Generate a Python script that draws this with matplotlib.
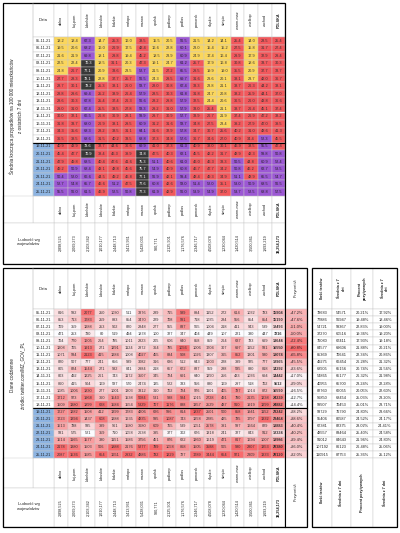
import matplotlib.pyplot as plt
import matplotlib.colors as mcolors
from matplotlib.patches import Rectangle
import numpy as np

plt.rcParams['font.family'] = ['Liberation Sans', 'DejaVu Sans']

# ====================
# dane
# ====================
regions = ["dolno", "kuj-pom", "lubelskie", "lubuskie", "łódzkie", "małopo", "mazow",
           "opolsk", "podkarp", "podlas", "pomorsk", "śląskie", "święto", "warm-maz",
           "wielkop", "zachod", "POLSKA"]
dates = ["05-11-21", "06-11-21", "07-11-21", "08-11-21", "09-11-21", "10-11-21", "11-11-21",
         "12-11-21", "13-11-21", "14-11-21", "15-11-21", "16-11-21", "17-11-21", "18-11-21",
         "19-11-21", "20-11-21", "21-11-21", "22-11-21", "23-11-21", "24-11-21", "25-11-21"]
population = ["2,898,525", "2,069,273", "2,103,342", "1,010,177", "2,448,713", "3,413,931",
              "5,428,031", "980,771", "2,125,901", "1,176,576", "2,346,717", "4,508,078",
              "1,230,044", "1,420,514", "3,500,361", "1,693,219", "38,254,173"]

# średnia 7-dniowa na 100 tys.
avg7 = [
    [18.2, 18.4, 67.3, 14.7, 25.3, 16.0, 38.5, 15.5, 20.5, 56.5, 21.5, 14.2, 14.1, 25.4, 14.0, 28.5, 25.4],
    [19.5, 20.6, 68.2, 16.0, 26.9, 17.5, 42.4, 16.6, 22.8, 60.1, 23.0, 15.4, 15.2, 27.5, 15.8, 31.7, 27.4],
    [21.6, 21.9, 69.8, 18.1, 29.8, 19.4, 45.2, 18.5, 23.9, 60.9, 24.9, 17.4, 16.4, 29.9, 17.9, 32.9, 29.4],
    [22.5, 22.4, 70.3, 18.5, 31.1, 20.3, 47.3, 19.1, 24.7, 61.2, 25.7, 17.9, 16.8, 30.8, 18.6, 33.7, 30.3],
    [24.8, 26.7, 77.1, 20.9, 33.6, 23.5, 52.7, 21.5, 27.2, 65.5, 29.5, 19.9, 19.0, 35.5, 20.9, 37.7, 33.7],
    [27.7, 28.3, 78.1, 22.8, 37.7, 25.7, 56.5, 24.3, 29.5, 69.7, 31.6, 23.6, 20.1, 38.1, 23.7, 42.0, 36.7],
    [28.7, 30.1, 78.2, 25.3, 38.1, 26.0, 58.7, 28.0, 30.8, 67.4, 33.3, 23.8, 21.1, 38.7, 26.3, 44.2, 38.1],
    [28.8, 29.6, 69.4, 25.2, 38.9, 26.4, 57.9, 28.5, 30.3, 61.8, 31.8, 24.7, 20.8, 38.2, 25.9, 44.1, 37.0],
    [28.6, 30.3, 67.8, 25.4, 37.4, 26.3, 56.6, 28.2, 29.8, 57.9, 32.5, 24.4, 20.6, 36.5, 26.0, 43.8, 36.6],
    [29.0, 31.0, 67.4, 25.5, 38.5, 27.8, 58.3, 29.2, 31.0, 57.9, 33.0, 25.4, 21.1, 38.7, 26.4, 45.1, 37.4],
    [30.0, 32.1, 66.5, 26.8, 36.9, 28.1, 59.9, 29.7, 30.9, 57.7, 33.9, 26.7, 21.9, 37.4, 26.9, 47.2, 38.2],
    [31.8, 33.7, 68.0, 26.9, 38.1, 29.5, 60.9, 31.2, 31.6, 58.7, 34.8, 27.5, 23.4, 39.2, 27.9, 47.0, 39.5],
    [34.3, 35.6, 68.3, 28.2, 38.5, 31.1, 64.1, 31.6, 32.9, 57.8, 34.7, 30.7, 25.6, 40.2, 31.0, 48.6, 41.3],
    [36.5, 38.5, 68.6, 31.5, 40.2, 33.5, 68.8, 37.3, 34.8, 57.6, 36.7, 34.6, 27.0, 40.9, 34.4, 52.3, 45.5],
    [40.9, 43.9, 73.6, 32.7, 44.6, 36.6, 69.9, 41.0, 37.3, 61.3, 40.9, 38.0, 30.1, 46.9, 38.5, 55.5, 47.4],
    [45.4, 47.7, 70.9, 38.4, 46.3, 39.9, 74.8, 47.5, 40.3, 62.1, 45.5, 42.2, 31.7, 48.9, 42.3, 59.8, 50.8],
    [47.9, 49.8, 68.5, 40.4, 47.6, 41.6, 75.3, 51.1, 40.6, 61.0, 46.0, 46.3, 33.3, 50.5, 44.8, 60.9, 52.4],
    [49.2, 50.9, 68.4, 43.1, 48.8, 45.6, 75.7, 54.9, 40.9, 60.8, 46.7, 47.7, 34.2, 50.8, 46.2, 62.7, 53.5],
    [50.4, 52.0, 66.6, 44.5, 49.2, 46.8, 77.1, 56.9, 42.1, 59.4, 48.4, 49.3, 34.9, 51.1, 48.9, 65.5, 54.7],
    [52.7, 54.8, 65.7, 46.6, 51.2, 47.5, 77.6, 60.8, 42.6, 58.0, 51.4, 52.0, 35.1, 53.0, 50.9, 68.5, 56.5],
    [55.5, 56.0, 61.5, 46.9, 52.5, 50.8, 77.3, 61.9, 42.9, 56.0, 53.9, 54.9, 37.0, 53.7, 52.5, 68.8, 57.5],
]

# dane codzienne
daily = [
    [816, 592, 2077, 250, 1030, 511, 3376, 289, 715, 989, 894, 1152, 272, 614, 1032, 783, 15904],
    [853, 713, 1783, 259, 893, 854, 3470, 229, 708, 991, 718, 1035, 284, 556, 854, 854, 15190],
    [709, 359, 1288, 253, 902, 820, 2848, 277, 555, 837, 565, 1004, 218, 411, 943, 539, 12493],
    [471, 253, 730, 80, 519, 494, 1878, 100, 327, 347, 404, 449, 107, 221, 380, 447, 7216],
    [704, 770, 1605, 264, 795, 1011, 2823, 205, 606, 640, 858, 859, 264, 637, 783, 699, 13644],
    [1208, 705, 1913, 271, 1291, 1124, 2872, 364, 795, 1056, 1006, 1704, 307, 697, 1152, 931, 16550],
    [1071, 934, 2123, 415, 1284, 1008, 4027, 455, 884, 908, 1026, 1307, 365, 852, 1301, 980, 19074],
    [820, 507, 777, 241, 656, 989, 3082, 316, 636, 512, 643, 1603, 228, 399, 925, 777, 12965],
    [805, 824, 1544, 271, 982, 841, 2984, 218, 657, 672, 837, 959, 288, 585, 880, 818, 14292],
    [803, 492, 1225, 261, 743, 1172, 3507, 345, 724, 691, 640, 1290, 256, 433, 1036, 694, 14442],
    [860, 415, 904, 169, 587, 570, 2474, 135, 522, 333, 556, 880, 169, 297, 518, 702, 9512],
    [1085, 1006, 1830, 277, 1001, 1303, 3312, 310, 702, 724, 976, 1101, 405, 787, 1014, 872, 16590],
    [1712, 973, 1968, 360, 1543, 1538, 5084, 531, 988, 984, 1015, 2728, 491, 790, 2135, 1238, 24239],
    [1509, 1380, 1899, 628, 1584, 1554, 5329, 707, 1176, 888, 1357, 2529, 487, 910, 1919, 1299, 24882],
    [1727, 1282, 1508, 412, 1399, 1783, 4206, 626, 996, 814, 1837, 2501, 500, 858, 1941, 1152, 23242],
    [1723, 1394, 1437, 608, 1288, 1635, 4835, 595, 1087, 743, 1258, 2285, 425, 785, 1797, 1332, 23464],
    [1513, 788, 935, 399, 961, 1580, 3680, 609, 765, 539, 1051, 2578, 391, 597, 1664, 829, 18883],
    [931, 575, 521, 359, 710, 1058, 2638, 395, 377, 302, 676, 1318, 241, 327, 843, 912, 12334],
    [1514, 1165, 1577, 380, 1151, 1586, 3756, 451, 876, 622, 1260, 1619, 471, 817, 1694, 1007, 19986],
    [2178, 1380, 1503, 506, 1888, 2176, 5277, 799, 1058, 868, 1505, 3588, 505, 980, 2807, 1353, 28380],
    [2087, 1536, 1585, 654, 1651, 2932, 4886, 782, 1229, 727, 1789, 3444, 654, 971, 2309, 1333, 28120],
]
growth = [47.2, 47.6, 51.0, 50.0, 72.4, 80.8, 65.8, 45.5, 33.6, 17.0, 29.0, 16.5, 12.7, 14.4,
          28.2, 38.6, 40.4, 40.2, 39.4, 36.0, 32.0]

# testy
tests = [78683, 77886, 54721, 37270, 76080, 84577, 85369, 49275, 68905, 54865, 40955, 82760,
         96850, 99507, 93729, 95406, 67381, 48557, 91012, 107192, 110915]
tests_avg7 = [54571, 56947, 59367, 60516, 67411, 69606, 70641, 66454, 65156, 65177, 65700, 66055,
              68454, 70453, 76790, 80587, 82375, 83464, 84643, 86123, 87753]
pos_pct = [20.21, 19.48, 22.83, 19.36, 17.93, 21.88, 22.34, 26.28, 20.74, 26.32, 23.24, 20.05,
           25.03, 25.01, 24.80, 24.52, 28.02, 25.40, 21.96, 26.48, 25.36]
pos_avg7 = [17.92, 18.46, 19.00, 19.20, 19.18, 20.21, 20.86, 21.32, 21.56, 21.98, 22.28, 22.60,
            23.20, 23.71, 23.66, 24.17, 24.41, 24.58, 24.80, 25.06, 25.12]
test_headers = ["Ilość testów", "Średnia z 7\ndni", "Procent\npozytywnych", "Średnia z 7\ndni"]
test_headers_bottom = ["Ilość testów", "Średnia z 7 dni", "Procent pozytywnych", "Średnia z 7 dni"]

# ====================
# układ
# ====================
YELLOW, RED, PURPLE, DARK = '#fbd65c', '#f2585c', '#9c58d4', '#383838'
BLUE = '#8db4e2'
GRID = '#c8c8c8'
heat = mcolors.LinearSegmentedColormap.from_list('xl', ['#fcfcff', '#f8696b'])

X0, XD, XC0, CW = 3, 33, 54, 13.6
ncol = len(regions)
XEND = XC0 + ncol * CW

fig = plt.figure(figsize=(4, 5.33), dpi=100)
ax = fig.add_axes([0, 0, 1, 1])
ax.set_xlim(0, 400)
ax.set_ylim(533, 0)
ax.axis('off')


def cell(x, y, w, h, fc='white', ec=GRID, lw=0.3):
    ax.add_patch(Rectangle((x, y), w, h, facecolor=fc, edgecolor=ec, linewidth=lw))


def txt(x, y, s, size=3.0, rot=0, **kw):
    ax.text(x, y, s, fontsize=size, rotation=rot, ha='center', va='center',
            color=kw.pop('color', '#222222'), **kw)


def level_color(v):
    if v < 25:
        return YELLOW, '#333333'
    if v < 50:
        return RED, '#333333'
    if v < 70:
        return PURPLE, '#222222'
    return DARK, 'white'


def draw_table(top, header_h, row_h, label_h, pop_h, values, fmt, colors, extra=None):
    right = XEND + (22 if extra else 0)
    y_rows = top + header_h
    y_lab = y_rows + row_h * len(dates)
    y_pop = y_lab + label_h
    bottom = y_pop + pop_h
    # nagłówek
    cell(XD, top, XC0 - XD, header_h)
    txt((XD + XC0) / 2, top + header_h / 2, "Data", 3.0)
    for j, name in enumerate(regions):
        x = XC0 + j * CW
        cell(x, top, CW, header_h)
        txt(x + CW / 2, top + header_h / 2, name, 2.7, 90,
            fontweight='bold' if name == "POLSKA" else 'normal')
        cell(x, y_lab, CW, label_h)
        txt(x + CW / 2, y_lab + label_h / 2, name, 2.7, 90,
            fontweight='bold' if name == "POLSKA" else 'normal')
        cell(x, y_pop, CW, pop_h)
        txt(x + CW / 2, y_pop + pop_h / 2, population[j], 2.7, 90,
            fontweight='bold' if name == "POLSKA" else 'normal')
    cell(XD, y_lab, XC0 - XD, label_h)
    cell(X0, y_lab, XD - X0, label_h)
    cell(X0, y_pop, XC0 - X0, pop_h)
    txt((X0 + XC0) / 2, y_pop + pop_h / 2 - 1, "Ludność wg\nwojewództw", 3.0, linespacing=1.3)
    # wiersze
    for i, d in enumerate(dates):
        y = y_rows + i * row_h
        cell(XD, y, XC0 - XD, row_h, BLUE if i >= 14 else 'white')
        txt((XD + XC0) / 2, y + row_h / 2, d, 2.8)
        for j in range(ncol):
            fc, tc = colors(i, j)
            cell(XC0 + j * CW, y, CW, row_h, fc)
            txt(XC0 + j * CW + CW / 2, y + row_h / 2, fmt(values[i][j]), 2.8, color=tc,
                fontweight='bold' if (extra and j == ncol - 1) else 'normal')
    if extra:
        vals, lbl = extra
        norm = mcolors.Normalize(min(vals), max(vals))
        cell(XEND, top, right - XEND, header_h)
        txt((XEND + right) / 2, top + header_h / 2, lbl, 2.7, 90)
        for i, v in enumerate(vals):
            y = y_rows + i * row_h
            cell(XEND, y, right - XEND, row_h, heat(norm(v)))
            txt((XEND + right) / 2, y + row_h / 2, f"+{v:.1f}%", 2.8)
        cell(XEND, y_lab, right - XEND, bottom - y_lab)
        txt((XEND + right) / 2, (y_lab + bottom) / 2, lbl, 2.7, 90)
        ax.plot([XEND, XEND], [top, bottom], color='black', lw=0.8)
    # grube linie
    ysplit = y_rows + 14 * row_h
    ax.plot([XD, right], [ysplit, ysplit], color='black', lw=0.8)
    ax.add_patch(Rectangle((X0, top), right - X0, bottom - top, fill=False,
                           edgecolor='black', linewidth=0.9))
    return y_rows, y_lab, bottom


# ====================
# 1. średnia krocząca na 100 tys.
# ====================
t1 = draw_table(3, 34, 7.55, 27, 41, avg7, lambda v: f"{v:.1f}",
                lambda i, j: level_color(avg7[i][j]))
ax.plot([XD, XD], [3, t1[1]], color=GRID, lw=0.3)
txt(12, (t1[0] + t1[1]) / 2, "Średnia krocząca przypadków na 100 000 mieszkańców", 3.3, 90)
txt(21, (t1[0] + t1[1]) / 2, "z ostatnich 7 dni", 3.3, 90)

# ====================
# 2. dane codzienne
# ====================
arr = np.array(daily, dtype=float)
col_norms = [mcolors.Normalize(arr[:, j].min(), arr[:, j].max()) for j in range(ncol)]
t2 = draw_table(268, 41, 7.1, 30, 39, daily, lambda v: f"{v}",
                lambda i, j: (heat(col_norms[j](daily[i][j])), '#333333'),
                extra=(growth, "Przyrost t/t"))
ax.plot([XD, XD], [268, t2[1]], color=GRID, lw=0.3)
txt(13, 375, "Dane codzienne", 3.3, 90)
txt(23, 375, "źródło: twitter.com/MZ_GOV_PL", 3.3, 90)

# ====================
# 3. testy
# ====================
SX = [312, 332, 351, 373, 397]
top, y_rows, y_lab, bottom = 268, t2[0], t2[1], 527
cols = [[f"{v}" for v in tests], [f"{v}" for v in tests_avg7],
        [f"{v:.2f}%" for v in pos_pct], [f"{v:.2f}%" for v in pos_avg7]]
for k in range(4):
    x, w = SX[k], SX[k + 1] - SX[k]
    cell(x, top, w, y_rows - top)
    txt(x + w / 2, (top + y_rows) / 2, test_headers[k], 2.7, 90, fontweight='bold',
        linespacing=1.2)
    for i, s in enumerate(cols[k]):
        cell(x, y_rows + i * 7.1, w, 7.1)
        txt(x + w / 2, y_rows + i * 7.1 + 3.55, s, 2.8)
    cell(x, y_lab, w, bottom - y_lab)
    txt(x + w / 2, (y_lab + bottom) / 2, test_headers_bottom[k], 2.7, 90, fontweight='bold')
ax.add_patch(Rectangle((SX[0], top), SX[-1] - SX[0], bottom - top, fill=False,
                       edgecolor='black', linewidth=0.9))

fig.savefig("out.png", dpi=100, facecolor='white')
